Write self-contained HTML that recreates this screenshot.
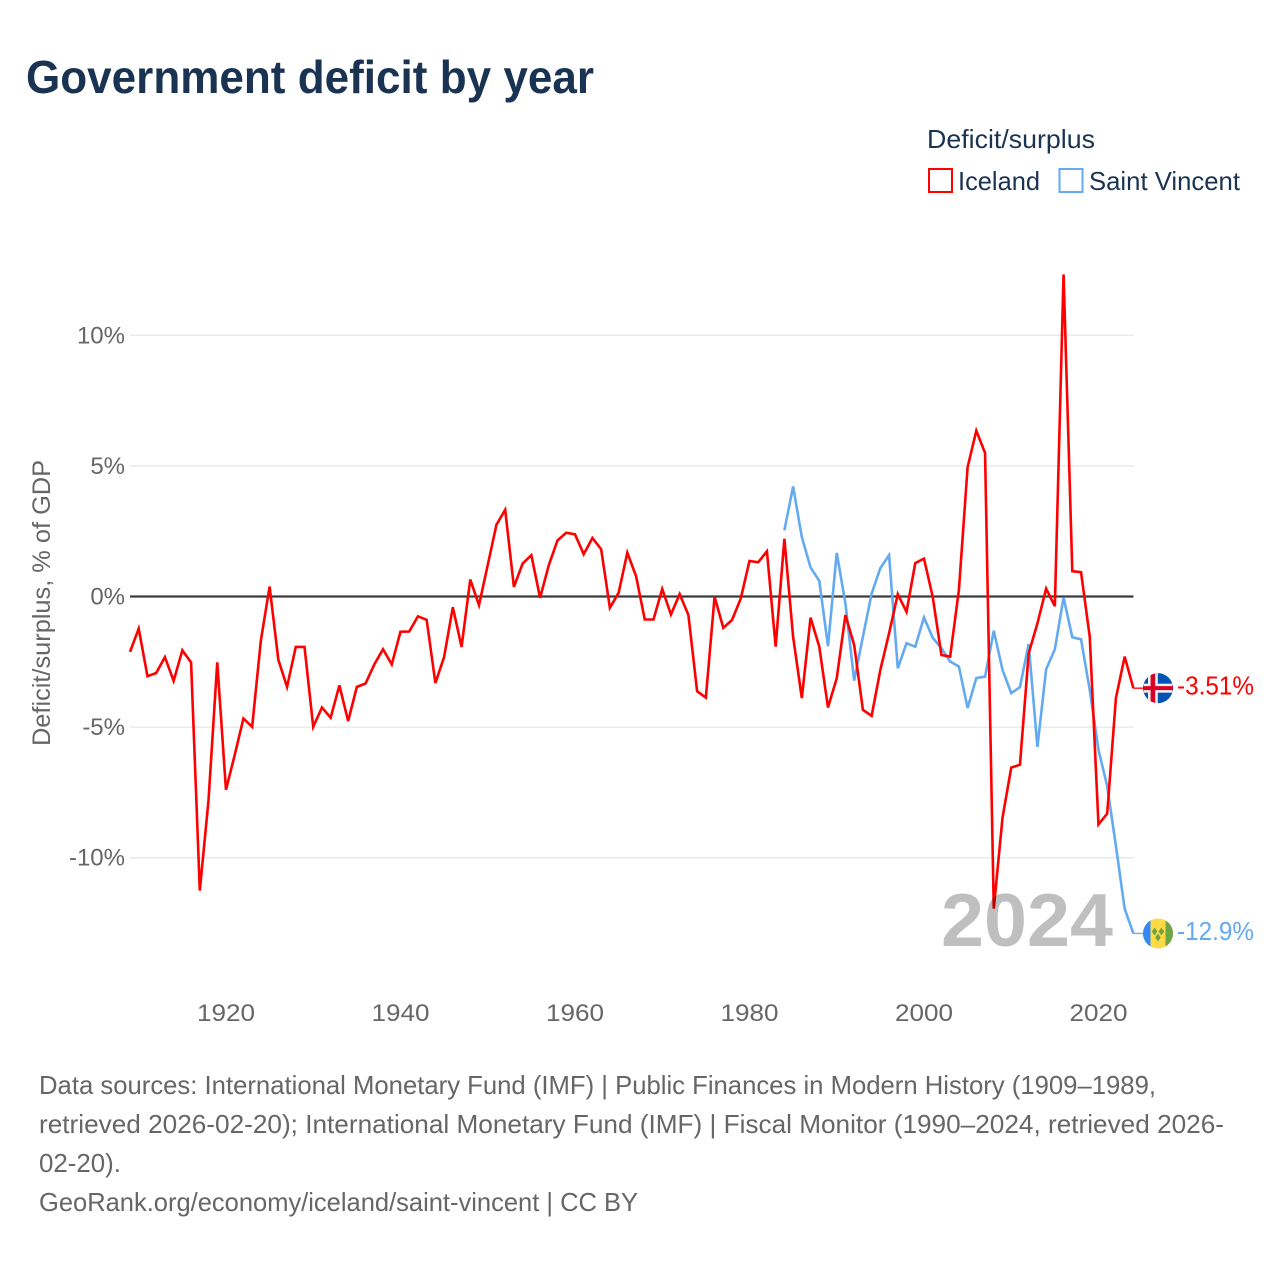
<!DOCTYPE html>
<html lang="en">
<head>
<meta charset="utf-8">
<title>Government deficit by year</title>
<style>
html,body{margin:0;padding:0;background:#fff;width:1280px;height:1280px;overflow:hidden}
svg{display:block;font-family:"Liberation Sans",sans-serif}
</style>
</head>
<body>
<svg id="chart" xmlns="http://www.w3.org/2000/svg" width="1280" height="1280" viewBox="0 0 1280 1280">
  <rect width="1280" height="1280" fill="#fff"/>
  <text x="26" y="93" font-size="46" font-weight="700" fill="#1a3352" textLength="568" lengthAdjust="spacingAndGlyphs">Government deficit by year</text>

  <g>
    <text x="927" y="148" font-size="26" fill="#1a3352" textLength="168" lengthAdjust="spacingAndGlyphs">Deficit/surplus</text>
    <g>
      <rect x="929" y="169" width="23" height="23" fill="#fff" stroke="#ff0000" stroke-width="2"/>
      <text x="958" y="190" font-size="26" fill="#1a3352" textLength="82" lengthAdjust="spacingAndGlyphs">Iceland</text>
    </g>
    <g>
      <rect x="1059.5" y="169" width="23" height="23" fill="#fff" stroke="#63aaf0" stroke-width="2"/>
      <text x="1089" y="190" font-size="26" fill="#1a3352" textLength="151" lengthAdjust="spacingAndGlyphs">Saint Vincent</text>
    </g>
  </g>

  <text transform="translate(50,603) rotate(-90)" text-anchor="middle" font-size="25" fill="#666" textLength="286" lengthAdjust="spacingAndGlyphs">Deficit/surplus, % of GDP</text>

  <g id="grid"></g>
  <g id="yticks"></g>
  <g id="xticks"></g>
  <g id="series"></g>
  <g id="ends"></g>

  <text x="1113" y="946" text-anchor="end" font-size="75" font-weight="700" fill="#000" fill-opacity="0.25" textLength="172" lengthAdjust="spacingAndGlyphs">2024</text>

  <g font-size="26" fill="#666">
    <text x="39" y="1094" textLength="1117" lengthAdjust="spacingAndGlyphs">Data sources: International Monetary Fund (IMF) | Public Finances in Modern History (1909–1989,</text>
    <text x="39" y="1133" textLength="1185" lengthAdjust="spacingAndGlyphs">retrieved 2026-02-20); International Monetary Fund (IMF) | Fiscal Monitor (1990–2024, retrieved 2026-</text>
    <text x="39" y="1172" textLength="82" lengthAdjust="spacingAndGlyphs">02-20).</text>
    <text x="39" y="1211" textLength="599" lengthAdjust="spacingAndGlyphs">GeoRank.org/economy/iceland/saint-vincent | CC BY</text>
  </g>
</svg>
<script>
const startYear = 1909;
const icelandValues = [-2.12,-1.23,-3.05,-2.93,-2.32,-3.23,-2.06,-2.52,-11.26,-7.8,-2.52,-7.4,-6.07,-4.67,-4.99,-1.68,0.38,-2.42,-3.46,-1.93,-1.93,-4.99,-4.25,-4.64,-3.4,-4.77,-3.46,-3.33,-2.6,-2.02,-2.6,-1.35,-1.34,-0.76,-0.89,-3.31,-2.32,-0.41,-1.93,0.65,-0.33,1.2,2.75,3.32,0.37,1.26,1.58,-0.05,1.2,2.15,2.44,2.38,1.62,2.24,1.81,-0.43,0.14,1.68,0.78,-0.88,-0.88,0.29,-0.69,0.09,-0.71,-3.63,-3.87,-0.01,-1.2,-0.9,-0.08,1.36,1.31,1.73,-1.92,2.21,-1.54,-3.89,-0.81,-1.92,-4.25,-3.13,-0.71,-1.86,-4.34,-4.57,-2.81,-1.41,0.09,-0.59,1.28,1.45,-0.01,-2.24,-2.3,0.24,4.95,6.35,5.5,-11.95,-8.47,-6.55,-6.44,-2.18,-1.03,0.3,-0.37,12.33,0.97,0.93,-1.54,-8.73,-8.31,-3.89,-2.3,-3.51];
const vincentStartYear = 1984;
const vincentValues = [2.53,4.21,2.28,1.11,0.6,-1.9,1.67,-0.27,-3.22,-1.54,0.11,1.09,1.58,-2.75,-1.79,-1.92,-0.8,-1.58,-1.98,-2.49,-2.68,-4.27,-3.12,-3.07,-1.31,-2.81,-3.7,-3.47,-1.82,-5.76,-2.79,-2.02,-0.04,-1.56,-1.64,-3.58,-5.87,-7.26,-9.55,-11.95,-12.9];
const yTickValues = [10,5,0,-5,-10];
const yTickLabels = ["10%","5%","0%","-5%","-10%"];
const xTickValues = [1920,1940,1960,1980,2000,2020];
const endLabels = ["-3.51%","-12.9%"];

const NS = "http://www.w3.org/2000/svg";
const xScale = year => 130 + (year - 1909) * 8.725;
const yScale = value => 596.5 - value * 26.12;
const X_END = 1133.5;

function make(tag, attrs, parent, text) {
  const el = document.createElementNS(NS, tag);
  for (const k in attrs) el.setAttribute(k, attrs[k]);
  if (text !== undefined) el.textContent = text;
  parent.appendChild(el);
  return el;
}

const gridG = document.getElementById("grid");
const yG = document.getElementById("yticks");
yTickValues.forEach((v, i) => {
  const line = make("line", {x1: 130, x2: X_END, y1: yScale(v), y2: yScale(v), stroke: v === 0 ? "#3c3c3c" : "#eaeaea", "stroke-width": v === 0 ? 2.2 : 1.5}, gridG);
  
  
  const t = make("text", {x: 125, y: yScale(v) + 8, "text-anchor": "end", "font-size": 24, fill: "#666"}, yG, yTickLabels[i]);
  
  
});

const xG = document.getElementById("xticks");
xTickValues.forEach(year => {
  const t = make("text", {x: xScale(year), y: 1021, "text-anchor": "middle", "font-size": 24, fill: "#666", textLength: 58, lengthAdjust: "spacingAndGlyphs"}, xG, String(year));
  
  
});

function pathFor(values, firstYear) {
  return values.map((v, i) => (i ? "L" : "M") + xScale(firstYear + i).toFixed(2) + " " + yScale(v).toFixed(2)).join(" ");
}

const seriesG = document.getElementById("series");
const vincentLine = make("path", {d: pathFor(vincentValues, vincentStartYear), fill: "none", stroke: "#63aaf0", "stroke-width": 2.6, "stroke-linejoin": "miter"}, seriesG);


const icelandLine = make("path", {d: pathFor(icelandValues, startYear), fill: "none", stroke: "#ff0000", "stroke-width": 2.6, "stroke-linejoin": "miter"}, seriesG);



const endsG = document.getElementById("ends");
const FLAG_X = 1158;
const LAST_YEAR = startYear + icelandValues.length - 1;

/* Iceland end marker */
const iy = yScale(icelandValues[icelandValues.length - 1]);
const iConn = make("line", {x1: xScale(LAST_YEAR), x2: FLAG_X - 15, y1: iy, y2: iy, stroke: "#ff0000", "stroke-width": 1.3}, endsG);


const iFlag = make("g", {transform: "translate(" + FLAG_X + "," + iy + ")"}, endsG);


make("circle", {r: 15, fill: "#0052b4"}, iFlag);
make("path", {d: "M-10 -11.18A15 15 0 0 1 -0.2 -15V15A15 15 0 0 1 -10 11.18Z", fill: "#f0f0f0"}, iFlag);
make("rect", {x: -14.3, y: -4.5, width: 28.6, height: 9, fill: "#f0f0f0"}, iFlag);
make("path", {d: "M-15 -2H-7.4V-13.1A15 15 0 0 1 -2.8 -14.7V-2H15V2H-2.8V14.7A15 15 0 0 1 -7.4 13.1V2H-15Z", fill: "#d80027"}, iFlag);
const iLabel = make("text", {x: 1177, y: iy + 6.5, "font-size": 26, fill: "#ff0000", textLength: 77, lengthAdjust: "spacingAndGlyphs"}, endsG, endLabels[0]);



/* Saint Vincent end marker */
const vy = yScale(vincentValues[vincentValues.length - 1]);
const vConn = make("line", {x1: xScale(LAST_YEAR), x2: FLAG_X - 15, y1: vy, y2: vy, stroke: "#63aaf0", "stroke-width": 1.3}, endsG);


const vFlag = make("g", {transform: "translate(" + FLAG_X + "," + vy + ")"}, endsG);


make("circle", {r: 15, fill: "#ffda44"}, vFlag);
make("path", {d: "M-7.5 -13A15 15 0 0 0 -7.5 13Z", fill: "#338af3"}, vFlag);
make("path", {d: "M7.5 -13A15 15 0 0 1 7.5 13Z", fill: "#6da544"}, vFlag);
make("path", {d: "M-6.2 -2L-3.4 -6L-0.6 -2L-3.4 2Z M0.6 -2L3.4 -6L6.2 -2L3.4 2Z M-2.8 4L0 0L2.8 4L0 8Z", fill: "#6da544"}, vFlag);
const vLabel = make("text", {x: 1177, y: vy + 6.5, "font-size": 26, fill: "#63aaf0", textLength: 77, lengthAdjust: "spacingAndGlyphs"}, endsG, endLabels[1]);


</script>
</body>
</html>
